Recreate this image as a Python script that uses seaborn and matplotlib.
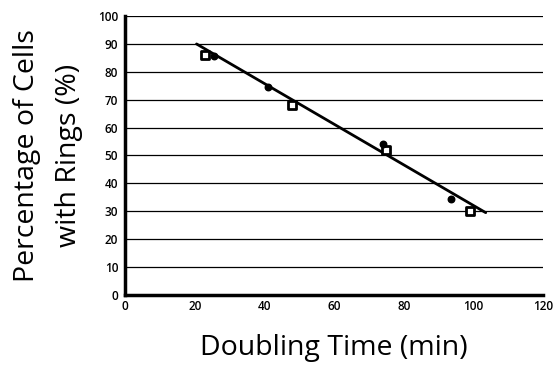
import numpy as np
import pandas as pd
import matplotlib
matplotlib.use("Agg")
import matplotlib.pyplot as plt
import seaborn as sns

square_x = [23, 48, 75, 99]
square_y = [86, 68, 52, 30]
circle_x = [25.5, 41, 74, 93.5]
circle_y = [85.5, 74.5, 54, 34.5]
fit_x = [20.5, 103.5]
fit_y = [90, 29.5]

y_ticks = list(range(0, 101, 10))
x_ticks = list(range(0, 121, 20))

squares = pd.DataFrame({"doubling": square_x, "pct": square_y})
circles = pd.DataFrame({"doubling": circle_x, "pct": circle_y})

sns.set_style("white")
plt.rcParams["font.family"] = ["Open Sans", "DejaVu Sans"]
plt.rcParams["text.color"] = "black"
plt.rcParams["axes.labelcolor"] = "black"
plt.rcParams["xtick.color"] = "black"
plt.rcParams["ytick.color"] = "black"

fig = plt.figure(figsize=(5.56, 3.65), dpi=100)
ax = fig.add_axes([0.225, 0.192, 0.752, 0.764])

for y in y_ticks[1:]:
    ax.axhline(y, color="black", lw=0.9, zorder=0)

sns.lineplot(x=fit_x, y=fit_y, color="black", lw=2, ax=ax, zorder=2)
sns.scatterplot(data=squares, x="doubling", y="pct", marker="s",
                color="white", edgecolor="black", linewidth=2, s=40,
                ax=ax, zorder=3)
sns.scatterplot(data=circles, x="doubling", y="pct", marker="o",
                color="black", edgecolor="black", linewidth=1, s=22,
                ax=ax, zorder=3)

ax.set_xlim(0, 120)
ax.set_ylim(0, 100)
ax.set_xticks(x_ticks)
ax.set_yticks(y_ticks)
ax.tick_params(axis="both", labelsize=8.5, width=1.5, length=3,
               direction="out", pad=2)
ax.tick_params(axis="x", length=2)
for lab in ax.get_xticklabels() + ax.get_yticklabels():
    lab.set_fontweight("semibold")

sns.despine(ax=ax, top=True, right=True)
for side in ("left", "bottom"):
    ax.spines[side].set_linewidth(2.5)
    ax.spines[side].set_color("black")

ax.set_xlabel("Doubling Time (min)", fontsize=20.5, labelpad=15)
ax.set_ylabel("Percentage of Cells\nwith Rings (%)", fontsize=20.5,
              labelpad=11, linespacing=1.65)

fig.savefig("out.png", dpi=100)
